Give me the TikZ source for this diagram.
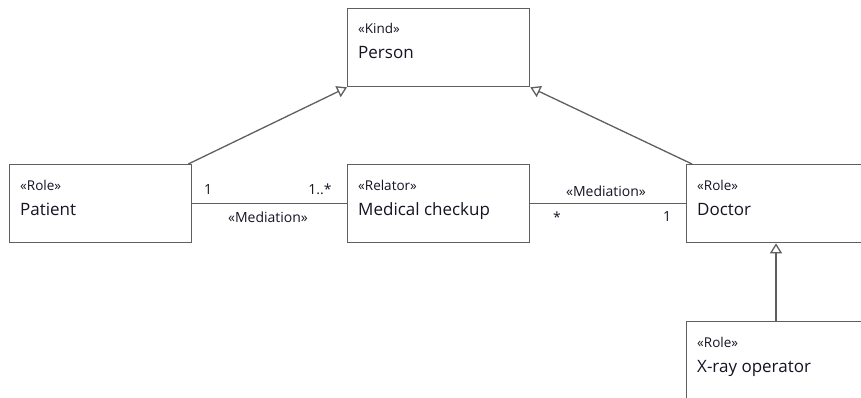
\documentclass[tikz,border=0pt]{standalone}
\usepackage{fontspec}
\setmainfont{Open Sans}
\usetikzlibrary{arrows.meta,calc}

\definecolor{edgegray}{HTML}{5F5F5F}
\definecolor{inkblue}{HTML}{141424}

\tikzset{
  umlbox/.style={draw=edgegray, line width=1.3pt, fill=white, rectangle,
    anchor=north west, minimum width=182pt, minimum height=78pt, inner sep=0pt},
  stereo/.style={anchor=base west, inner sep=0pt, text=inkblue,
    font=\fontsize{13.5}{16}\selectfont},
  clsname/.style={anchor=base west, inner sep=0pt, text=inkblue,
    font=\fontsize{17}{20}\selectfont},
  assoclbl/.style={anchor=base, inner sep=0pt, text=inkblue,
    font=\fontsize{14}{16}\selectfont},
  assoc/.style={draw=edgegray, line width=1.3pt},
  gen/.style={draw=edgegray, line width=1.3pt,
    -{Triangle[open, length=10pt, width=12pt, fill=white]}},
}

\begin{document}
\begin{tikzpicture}[x=1pt, y=-1pt]
  \useasboundingbox (0,0) rectangle (861,397);
  \clip (0,0) rectangle (861,397);

  % class boxes
  \node[umlbox] (person)  at (347,8)   {};
  \node[umlbox] (patient) at (9,164)   {};
  \node[umlbox] (checkup) at (347,164) {};
  \node[umlbox] (doctor)  at (686,164) {};
  \node[umlbox] (xray)    at (686,321) {};

  % stereotypes and names
  \node[stereo]  (personS)  at ($(person.north west)+(11,25)$)  {«Kind»};
  \node[clsname] (personN)  at ($(person.north west)+(11,50)$)  {Person};
  \node[stereo]  (patientS) at ($(patient.north west)+(11,26)$) {«Role»};
  \node[clsname] (patientN) at ($(patient.north west)+(11,51)$) {Patient};
  \node[stereo]  (checkupS) at ($(checkup.north west)+(11,26)$) {«Relator»};
  \node[clsname] (checkupN) at ($(checkup.north west)+(11,51)$) {Medical checkup};
  \node[stereo]  (doctorS)  at ($(doctor.north west)+(11,26)$)  {«Role»};
  \node[clsname] (doctorN)  at ($(doctor.north west)+(11,51)$)  {Doctor};
  \node[stereo]  (xrayS)    at ($(xray.north west)+(11,26)$)    {«Role»};
  \node[clsname] (xrayN)    at ($(xray.north west)+(11,51)$)    {X-ray operator};

  % generalizations
  \coordinate (patientTop) at ($(patient.north east)+(-4,0)$);
  \coordinate (doctorTop)  at ($(doctor.north west)+(6,0)$);
  \coordinate (xrayTop)    at ($(xray.north west)+(90,0)$);
  \draw[gen] (patientTop) -- (person.south west);
  \draw[gen] (doctorTop)  -- (person.south east);
  \draw[gen] (xrayTop)    -- (xrayTop |- doctor.south);

  % mediations
  \draw[assoc] (patient.east) -- (checkup.west);
  \draw[assoc] (checkup.east) -- (doctor.west);

  \node[assoclbl] (m1a) at (208,194) {1};
  \node[assoclbl] (m1b) at (320,194) {1..*};
  \node[assoclbl] (m1n) at (268,222) {«Mediation»};
  \node[assoclbl] (m2n) at (606,196) {«Mediation»};
  \node[assoclbl] (m2a) at (557,222) {*};
  \node[assoclbl] (m2b) at (667,221) {1};
\end{tikzpicture}
\end{document}
